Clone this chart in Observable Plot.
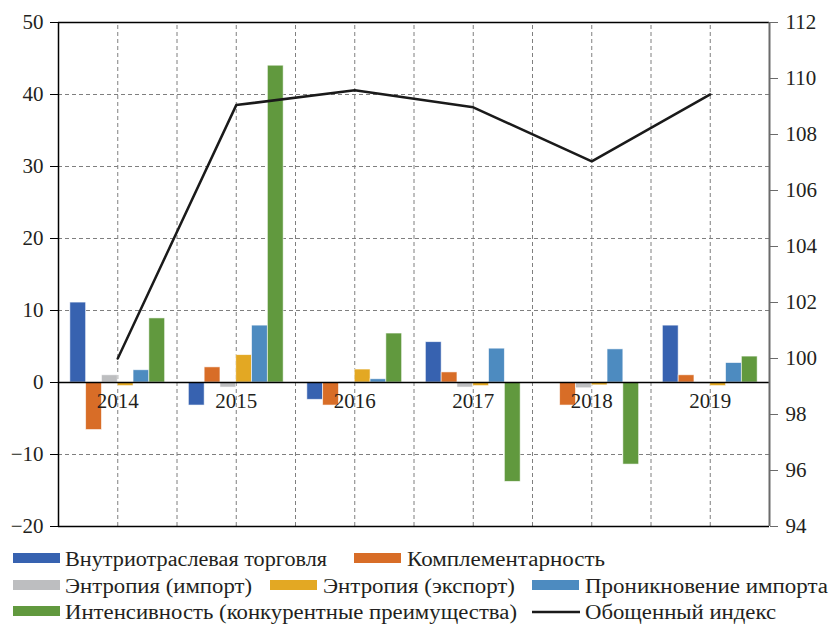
<!DOCTYPE html>
<html>
<head>
<meta charset="utf-8">
<script src="https://cdn.jsdelivr.net/npm/d3@7"></script>
<script src="https://cdn.jsdelivr.net/npm/@observablehq/plot@0.6"></script>
<style>
  html, body { margin: 0; padding: 0; background: #fff; overflow: hidden; }
  #wrap { position: relative; width: 832px; height: 624px; font-family: 'Liberation Serif', 'Times New Roman', serif; }
  #wrap svg { overflow: visible; }
  #wrap text { font-family: 'Liberation Serif', 'Times New Roman', serif; }
  #legend { position: absolute; left: 0; top: 532px; }
</style>
</head>
<body>
<div id="wrap"></div>
<script>
// ---- data ----
const years = [2014, 2015, 2016, 2017, 2018, 2019];
const seriesNames = [
  "Внутриотраслевая торговля",
  "Комплементарность",
  "Энтропия (импорт)",
  "Энтропия (экспорт)",
  "Проникновение импорта",
  "Интенсивность (конкурентные преимущества)"
];
const intraIndustry = [11.1, -3.2, -2.4, 5.6, -0.1, 7.9];
const complementarity = [-6.6, 2.1, -3.2, 1.4, -3.2, 1.0];
const entropyImport = [1.0, -0.7, 0.1, -0.7, -0.8, -0.2];
const entropyExport = [-0.5, 3.8, 1.8, -0.5, -0.4, -0.5];
const importPenetration = [1.7, 7.9, 0.45, 4.7, 4.6, 2.7];
const intensity = [8.9, 44.0, 6.8, -13.8, -11.4, 3.6];
const lineName = "Обощенный индекс";
const compositeIndex = [100.0, 109.05, 109.58, 108.97, 107.04, 109.43];
const leftTicks = [-20, -10, 0, 10, 20, 30, 40, 50];
const rightTicks = [94, 96, 98, 100, 102, 104, 106, 108, 110, 112];
const colors = ["#3762B0", "#D86D27", "#BDBEC0", "#E3A823", "#4D8BC0", "#61993E"];

// ---- helpers ----
const FONT = "'Liberation Serif', 'Times New Roman', serif";
const leftMin = -20, leftMax = 50, rightMin = 94, rightMax = 112;
const toLeft = v => (v - rightMin) / (rightMax - rightMin) * (leftMax - leftMin) + leftMin;
const fromLeft = d => (d - leftMin) / (leftMax - leftMin) * (rightMax - rightMin) + rightMin;

const seriesValues = [intraIndustry, complementarity, entropyImport, entropyExport, importPenetration, intensity];
const bw = 0.8 / seriesValues.length;
const bars = [];
seriesValues.forEach((vals, i) => {
  vals.forEach((v, j) => bars.push({year: years[j], i, series: seriesNames[i], value: v}));
});
const linePts = years.map((y, j) => ({year: y, v: toLeft(compositeIndex[j])}));
const gridX = [];
for (let k = 0; k < years.length * 2 - 1; k++) gridX.push(years[0] + k * 0.5);
const gridY = leftTicks.filter(t => t !== 0 && t !== leftMin && t !== leftMax);

const chart = Plot.plot({
  width: 832,
  height: 532,
  marginLeft: 58,
  marginRight: 63,
  marginTop: 22,
  marginBottom: 6,
  style: {fontFamily: FONT, fontSize: "20px", color: "#231f20", background: "#fff", overflow: "visible"},
  x: {type: "linear", domain: [years[0] - 0.5, years[years.length - 1] + 0.5], axis: null},
  y: {domain: [leftMin, leftMax], axis: null},
  color: {domain: seriesNames, range: colors},
  marks: [
    Plot.ruleX(gridX, {x: d => d, y1: leftMin, y2: leftMax, stroke: "#7f7f7f", strokeWidth: 1, strokeDasharray: "4,3"}),
    Plot.ruleY(gridY, {y: d => d, x1: years[0] - 0.5, x2: years[years.length - 1] + 0.5, stroke: "#7f7f7f", strokeWidth: 1, strokeDasharray: "4,3"}),
    Plot.rect(bars, {
      x1: d => d.year - 0.4 + d.i * bw,
      x2: d => d.year - 0.4 + (d.i + 1) * bw,
      y1: 0,
      y2: "value",
      fill: "series",
      stroke: "white",
      strokeWidth: 0.8,
      strokeOpacity: 0.7
    }),
    Plot.ruleY([0], {stroke: "#000", strokeWidth: 1.5}),
    Plot.ruleY([leftMax], {stroke: "#000", strokeWidth: 1.5}),
    Plot.ruleY([leftMin], {stroke: "#000", strokeWidth: 1.5}),
    Plot.ruleX([years[0] - 0.5], {stroke: "#000", strokeWidth: 1.5}),
    Plot.ruleX([years[years.length - 1] + 0.5], {stroke: "#6b6b6b", strokeWidth: 2}),
    Plot.line(linePts, {x: "year", y: "v", stroke: "#1a1a1a", strokeWidth: 2.5}),
    Plot.text(years, {x: d => d, y: 0, dy: 19, text: d => String(d), fill: "#231f20", fontSize: 21, fontFamily: FONT}),
    Plot.axisY(leftTicks, {anchor: "left", tickSize: 8, tickPadding: 7, stroke: "#000", fill: "#231f20", label: null, fontFamily: FONT, fontSize: 21, tickFormat: d => d < 0 ? "\u2212" + Math.abs(d) : String(d)}),
    Plot.axisY(rightTicks.map(toLeft), {anchor: "right", tickSize: 8, tickPadding: 8, stroke: "#6b6b6b", fill: "#231f20", label: null, fontFamily: FONT, fontSize: 21, tickFormat: d => String(Math.round(fromLeft(d)))})
  ]
});
document.getElementById("wrap").appendChild(chart);

// ---- legend ----
const legendItems = [
  {name: seriesNames[0], color: colors[0], row: 0, sx: 13, tx: 65, tw: 262},
  {name: seriesNames[1], color: colors[1], row: 0, sx: 354, tx: 407, tw: 198},
  {name: seriesNames[2], color: colors[2], row: 1, sx: 13, tx: 65, tw: 187},
  {name: seriesNames[3], color: colors[3], row: 1, sx: 270, tx: 323, tw: 192},
  {name: seriesNames[4], color: colors[4], row: 1, sx: 532, tx: 585, tw: 243},
  {name: seriesNames[5], color: colors[5], row: 2, sx: 13, tx: 65, tw: 452},
  {name: lineName, color: "#1a1a1a", row: 2, sx: 532, tx: 585, tw: 191, line: true}
];
const rowBase = [34, 61, 87];
const lg = d3.create("svg").attr("id", "legend").attr("width", 832).attr("height", 92).style("overflow", "visible");
legendItems.forEach(it => {
  const base = rowBase[it.row];
  if (it.line) {
    lg.append("line").attr("x1", it.sx).attr("x2", it.sx + 48).attr("y1", base - 7).attr("y2", base - 7)
      .attr("stroke", it.color).attr("stroke-width", 2.5);
  } else {
    lg.append("rect").attr("x", it.sx).attr("y", base - 13).attr("width", 47).attr("height", 10).attr("fill", it.color);
  }
  lg.append("text").attr("x", it.tx).attr("y", base).text(it.name)
    .style("font-family", FONT).attr("font-size", 20).attr("fill", "#231f20")
    .attr("textLength", it.tw).attr("lengthAdjust", "spacingAndGlyphs");
});
document.getElementById("wrap").appendChild(lg.node());
</script>
</body>
</html>
